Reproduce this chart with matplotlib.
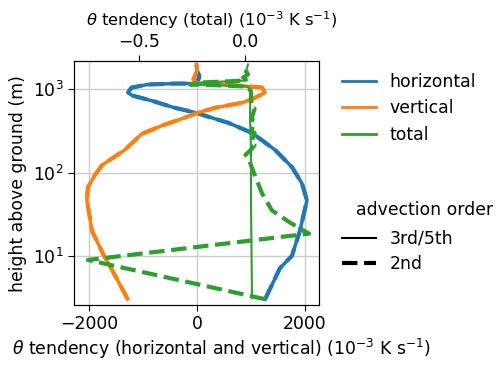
import matplotlib
matplotlib.use("Agg")
import matplotlib.pyplot as plt
from matplotlib.lines import Line2D
import numpy as np

plt.rcParams['font.size'] = 12.4

# horizontal advection tendency (10^-3 K/s, bottom axis) vs height (m)
z_hor = [3.06, 7.22, 10.1, 20.2, 46.4, 74.3, 116, 186, 297, 393, 476, 518, 595, 723,
         830, 902, 1037, 1127, 1158, 1158, 1295, 1430, 1610, 1850]
th_hor = [1262, 1539, 1760, 1907, 2037, 1944, 1760, 1447, 1023, 581, 157, -9, -415, -839,
          -1189, -1281, -1207, -912, -415, -46, 28, 46, 9, -9]

# vertical advection tendency
z_ver = [3.06, 8.77, 10.1, 20.2, 28.9, 46.4, 66.5, 92.7, 122, 186, 289, 362, 438, 518,
         595, 684, 764, 902, 1037, 1096, 1158, 1158, 1295, 1486, 1710, 1963]
th_ver = [-1281, -1660, -1720, -1944, -1981, -2037, -2018, -1889, -1760, -1336, -1023, -654, -286, 9,
          341, 839, 1041, 1262, 1207, 765, 286, -9, -65, -28, 9, -9]

# total tendency (top axis), 3rd/5th order
z_tot5 = [3.15, 46.4, 186, 415, 930, 1066, 1110, 1127, 1191, 1260, 1368, 1486, 1610, 1963]
th_tot5 = [0.033, 0.028, 0.028, 0.024, 0.024, 0.014, -0.150, -0.259, -0.212, 0.009, -0.009, 0.014, 0.005, 0.014]

# total tendency, 2nd order
z_tot2 = [3.06, 9.0, 18.6, 25.2, 35.2, 56.4, 85.3, 113, 153, 162, 190, 213, 230, 297, 310,
          415, 430, 579, 600, 930, 1066, 1110, 1127, 1191, 1260, 1368, 1486, 1610, 1963]
th_tot2 = [0.094, -0.741, 0.302, 0.212, 0.127, 0.080, 0.052, 0.033, 0.014, 0.002, 0.030, 0.045, 0.030, 0.045, 0.030,
           0.045, 0.030, 0.045, 0.030, 0.028, 0.014, -0.150, -0.259, -0.212, 0.009, -0.009, 0.014, 0.005, 0.014]

fig = plt.figure(figsize=(5.0, 3.68), dpi=100)
ax = fig.add_axes([0.148, 0.171, 0.490, 0.663])

ax.plot(th_hor, z_hor, color='tab:blue', lw=2.5)
ax.plot(th_hor, z_hor, color='tab:blue', lw=3, ls='--')
ax.plot(th_ver, z_ver, color='tab:orange', lw=2.5)
ax.plot(th_ver, z_ver, color='tab:orange', lw=3, ls='--')
ax.set_yscale('log')
ax.set_ylim(2.6, 2150)
ax.set_xlim(-2275, 2260)
ax.set_xticks([-2000, 0, 2000])
ax.yaxis.set_minor_locator(matplotlib.ticker.NullLocator())
ax.grid(True, color='#cccccc', lw=1)
ax.set_axisbelow(True)
ax.set_ylabel('height above ground (m)')
ax.set_xlabel(r'$\theta$ tendency (horizontal and vertical) (10$^{-3}$ K s$^{-1}$)')
ax.xaxis.set_label_coords(0.6, -0.13)

ax2 = ax.twiny()
ax2.plot(th_tot5, z_tot5, color='tab:green', lw=1.5)
ax2.plot(th_tot2, z_tot2, color='tab:green', lw=3, ls='--')
ax2.set_xlim(-0.807, 0.349)
ax2.set_xticks([-0.5, 0.0])
ax2.set_xlabel(r'$\theta$ tendency (total) (10$^{-3}$ K s$^{-1}$)', fontsize=11.8)
ax2.xaxis.set_label_coords(0.563, 1.145)
ax2.yaxis.set_minor_locator(matplotlib.ticker.NullLocator())

for a in (ax, ax2):
    a.tick_params(direction='out', length=4)
    for s in a.spines.values():
        s.set_color('black')

h1 = [Line2D([], [], color='tab:blue', lw=2),
      Line2D([], [], color='tab:orange', lw=2),
      Line2D([], [], color='tab:green', lw=2)]
leg1 = fig.legend(h1, ['horizontal', 'vertical', 'total'], loc='upper left',
                  bbox_to_anchor=(0.652, 0.845), frameon=False, labelspacing=0.5)
h2 = [Line2D([], [], color='black', lw=1.5),
      Line2D([], [], color='black', lw=3, ls='--')]
leg2 = fig.legend(h2, ['3rd/5th', '2nd'], loc='upper left',
                  bbox_to_anchor=(0.652, 0.418), frameon=False, labelspacing=0.45)
fig.text(0.712, 0.429, 'advection order', ha='left', va='center')

fig.savefig('out.png', dpi=100)
